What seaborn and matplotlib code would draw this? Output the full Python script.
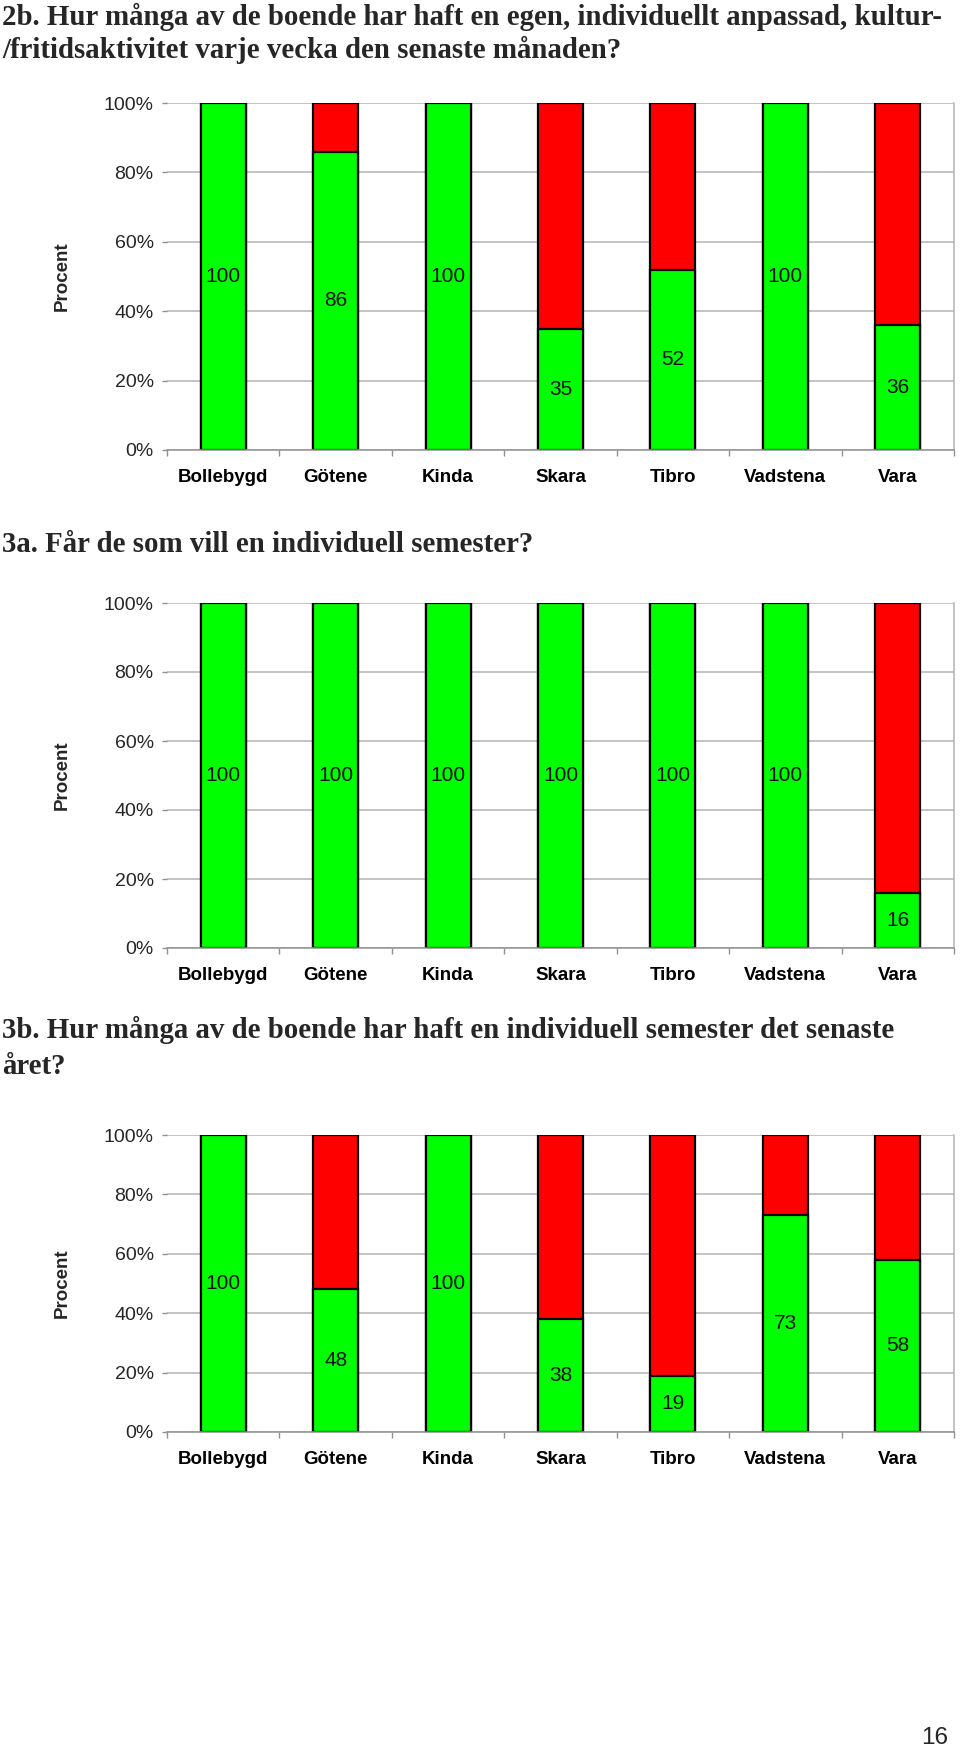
import numpy as np
import pandas as pd
import matplotlib
matplotlib.use("Agg")
import matplotlib.pyplot as plt
import seaborn as sns

# Kommuner (same order in all three charts)
kommuner = ["Bollebygd", "Götene", "Kinda", "Skara", "Tibro", "Vadstena", "Vara"]

# Share answering "ja" (green) per question, in percent
ja_2b = [100, 86, 100, 35, 52, 100, 36]
ja_3a = [100, 100, 100, 100, 100, 100, 16]
ja_3b = [100, 48, 100, 38, 19, 73, 58]

titles_2b = ["2b. Hur många av de boende har haft en egen, individuellt anpassad, kultur-",
             "/fritidsaktivitet varje vecka den senaste månaden?"]
titles_3a = ["3a. Får de som vill en individuell semester?"]
titles_3b = ["3b. Hur många av de boende har haft en individuell semester det senaste",
             "året?"]

y_ticks = [0, 20, 40, 60, 80, 100]
page_number = "16"

GREEN = "#00ff00"
RED = "#ff0000"

sns.set_theme(style="white")
plt.rcParams["font.family"] = ["Liberation Sans", "DejaVu Sans"]

W, H = 960, 1750
fig = plt.figure(figsize=(W / 100, H / 100), dpi=100)


def px_axes(left, top, right, bottom):
    # pixel box -> figure fraction
    return [left / W, 1 - bottom / H, (right - left) / W, (bottom - top) / H]


def draw_chart(ax, ja_values):
    df = pd.DataFrame({"Kommun": kommuner, "Ja": ja_values})
    df["Nej"] = 100 - df["Ja"]
    df["Totalt"] = df["Ja"] + df["Nej"]

    # red (nej) stacked on top: draw the total in red, the green share over it
    sns.barplot(data=df, x="Kommun", y="Totalt", color=RED, saturation=1,
                width=0.4, edgecolor="black", linewidth=1.6, ax=ax)
    sns.barplot(data=df, x="Kommun", y="Ja", color=GREEN, saturation=1,
                width=0.4, edgecolor="black", linewidth=1.6, ax=ax)

    for i, v in enumerate(df["Ja"]):
        ax.text(i, v / 2, str(v), ha="center", va="center", fontsize=15, color="#111111")

    ax.set_xlim(-0.5, len(kommuner) - 0.5)
    ax.set_ylim(0, 100)
    ax.set_yticks(y_ticks)
    ax.set_yticklabels([f"{t}%" for t in y_ticks], fontsize=14)
    ax.set_xlabel("")
    ax.set_ylabel("")
    for lab in ax.get_xticklabels():
        lab.set_fontweight("bold")
        lab.set_fontsize(13.5)

    ax.yaxis.grid(True, color="#b4b4b4", linewidth=1.1)
    ax.set_axisbelow(True)

    ax.set_xticks(np.arange(-0.5, len(kommuner), 1), minor=True)
    ax.tick_params(axis="x", which="major", length=0, pad=14, colors="black")
    ax.tick_params(axis="x", which="minor", bottom=True, length=4.5, width=1, color="#909090")
    ax.tick_params(axis="y", left=True, length=3.6, width=1, color="#909090", pad=6)

    for side in ["top", "left"]:
        ax.spines[side].set_visible(False)
    ax.spines["bottom"].set_color("#909090")
    ax.spines["bottom"].set_linewidth(1.1)
    ax.spines["right"].set_color("#b4b4b4")
    ax.spines["right"].set_linewidth(1.1)

    ax.text(-105 / ax.bbox.width, 0.5, "Procent", transform=ax.transAxes,
            rotation=90, ha="center", va="center", fontsize=13.5, fontweight="bold")


def draw_title(lines, y_centers):
    for txt, y in zip(lines, y_centers):
        fig.text(2 / W, 1 - y / H, txt, ha="left", va="center", fontsize=20.8,
                 fontweight="bold", family=["Liberation Serif", "DejaVu Serif"])


ax1 = fig.add_axes(px_axes(167, 103, 954, 450))
ax2 = fig.add_axes(px_axes(167, 603, 954, 948))
ax3 = fig.add_axes(px_axes(167, 1135, 954, 1432))

draw_title(titles_2b, [17, 50])
draw_title(titles_3a, [545])
draw_title(titles_3b, [1030, 1066])

for ax, vals in [(ax1, ja_2b), (ax2, ja_3a), (ax3, ja_3b)]:
    draw_chart(ax, vals)

fig.text(935 / W, 1 - 1738 / H, page_number, ha="center", va="center", fontsize=17.5)

fig.savefig("out.png", dpi=100)
